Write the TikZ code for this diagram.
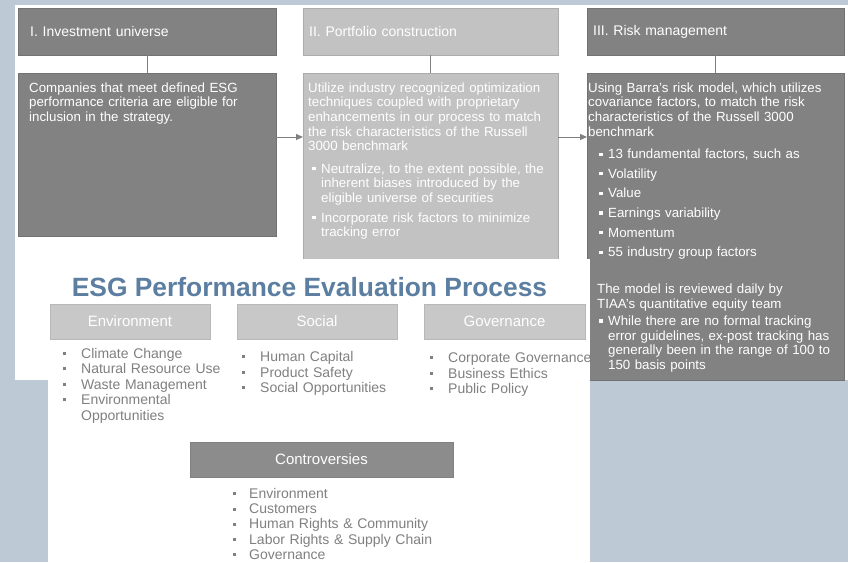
\documentclass[tikz,border=0pt]{standalone}
\usepackage{fontspec}
\setmainfont{Liberation Sans}
\usetikzlibrary{arrows.meta}

\definecolor{slide}{HTML}{BDC9D5}
\definecolor{boxdark}{HTML}{828282}
\definecolor{boxlight}{HTML}{C2C2C2}
\definecolor{catgrey}{HTML}{C8C8C8}
\definecolor{contgrey}{HTML}{8C8C8C}
\definecolor{listgrey}{HTML}{808080}
\definecolor{titleblue}{HTML}{5B7EA1}

\newcommand{\sqb}{\raisebox{0.2em}{\rule{3.5pt}{3.5pt}}}
\newcommand{\lsq}{\raisebox{0.22em}{\rule{3pt}{3pt}}}

\begin{document}
\begin{tikzpicture}[x=1pt,y=-1pt,
  head/.style={anchor=north west, draw=#1!88!black, fill=#1, text=white,
    minimum height=47pt, align=left, font=\fontsize{14}{16}\selectfont},
  body/.style={anchor=north west, draw=#1!88!black, fill=#1, inner sep=0pt},
  bodytext/.style={anchor=base west, inner sep=0pt, text=white, align=left,
    font=\fontsize{13.3}{14.7}\selectfont},
  conn/.style={draw=listgrey, line width=1pt},
  catbox/.style={draw=#1!92!black, fill=#1, text=white, minimum height=35pt,
    font=\fontsize{15}{17}\selectfont},
  listtext/.style={anchor=base west, inner sep=0pt, text=listgrey, align=left,
    text width=170pt, font=\fontsize{14}{15.5}\selectfont}]
  \useasboundingbox (0,0) rectangle (848,562);
  \fill[slide] (0,0) rectangle (848,562);
  \fill[white] (15,5) rectangle (848,380);

  % three process steps
  \node[head=boxdark, inner xsep=12pt, text width=234pt] (head1) at (18,8) {I. Investment universe};
  \node[head=boxlight, inner xsep=6pt, text width=243pt] (head2) at (303,8) {II. Portfolio construction};
  \node[head=boxdark, inner xsep=6pt, text width=245pt] (head3) at (587,8) {III. Risk management};
  \node[body=boxdark, minimum width=258pt, minimum height=163pt] (body1) at (18,73) {};
  \node[body=boxlight, minimum width=255pt, minimum height=186pt] (body2) at (303,73) {};
  \node[body=boxdark, minimum width=257pt, minimum height=307pt] (body3) at (587,73) {};
  \draw[conn] (head1) -- (body1);
  \draw[conn] (head2) -- (body2);
  \draw[conn] (head3) -- (body3);
  \draw[conn, -{Triangle[length=7pt,width=6pt]}] ([yshift=-64pt]body1.north east) -- ([yshift=-64pt]body2.north west);
  \draw[conn, -{Triangle[length=7pt,width=6pt]}] ([yshift=-64pt]body2.north east) -- ([yshift=-64pt]body3.north west);

  \node[bodytext, text width=240pt] (text1) at (29,92)
    {Companies that meet defined ESG\\ performance criteria are eligible for\\ inclusion in the strategy.};
  \node[bodytext, text width=245pt] (text2) at (308,92)
    {Utilize industry recognized optimization\\ techniques coupled with proprietary\\
     enhancements in our process to match\\ the risk characteristics of the Russell\\ 3000 benchmark\\[7.5pt]
     \hspace*{4pt}\makebox[9pt][l]{\sqb}Neutralize, to the extent possible, the\\
     \hspace*{13pt}inherent biases introduced by the\\ \hspace*{13pt}eligible universe of securities\\[5pt]
     \hspace*{4pt}\makebox[9pt][l]{\sqb}Incorporate risk factors to minimize\\ \hspace*{13pt}tracking error};
  \node[bodytext, text width=250pt] (text3) at (588,92)
    {Using Barra's risk model, which utilizes\\ covariance factors, to match the risk\\
     characteristics of the Russell 3000\\ benchmark\\[8pt]
     \hspace*{11pt}\makebox[9pt][l]{\sqb}13 fundamental factors, such as\\[4.5pt]
     \hspace*{11pt}\makebox[9pt][l]{\sqb}Volatility\\[5pt]
     \hspace*{11pt}\makebox[9pt][l]{\sqb}Value\\[5pt]
     \hspace*{11pt}\makebox[9pt][l]{\sqb}Earnings variability\\[5pt]
     \hspace*{11pt}\makebox[9pt][l]{\sqb}Momentum\\[5pt]
     \hspace*{11pt}\makebox[9pt][l]{\sqb}55 industry group factors\\[22pt]
     \hspace*{9pt}The model is reviewed daily by\\ \hspace*{9pt}TIAA's quantitative equity team\\[2.6pt]
     \hspace*{11pt}\makebox[9pt][l]{\sqb}While there are no formal tracking\\
     \hspace*{20pt}error guidelines, ex-post tracking has\\
     \hspace*{20pt}generally been in the range of 100 to\\ \hspace*{20pt}150 basis points};

  % ESG evaluation panel
  \fill[white] (48,259) rectangle (590,562);
  \node[text=titleblue, font=\bfseries\fontsize{26.4}{30}\selectfont] (title) at (309.5,287) {ESG Performance Evaluation Process};
  \node[catbox=catgrey, minimum width=160pt] (env) at (130,321.5) {Environment};
  \node[catbox=catgrey, minimum width=160pt] (soc) at (317,321.5) {Social};
  \node[catbox=catgrey, minimum width=161pt] (gov) at (504.5,321.5) {Governance};
  \node[listtext] (envlist) at (63,358)
    {\makebox[18pt][l]{\lsq}Climate Change\\ \makebox[18pt][l]{\lsq}Natural Resource Use\\
     \makebox[18pt][l]{\lsq}Waste Management\\ \makebox[18pt][l]{\lsq}Environmental\\ \hspace*{18pt}Opportunities};
  \node[listtext] (soclist) at (242,361.5)
    {\makebox[18pt][l]{\lsq}Human Capital\\ \makebox[18pt][l]{\lsq}Product Safety\\
     \makebox[18pt][l]{\lsq}Social Opportunities};
  \node[listtext] (govlist) at (430,362.5)
    {\makebox[18pt][l]{\lsq}Corporate Governance\\ \makebox[18pt][l]{\lsq}Business Ethics\\
     \makebox[18pt][l]{\lsq}Public Policy};
  \node[catbox=contgrey, minimum width=263pt] (cont) at (321.5,459.5) {Controversies};
  \node[listtext, text width=220pt, font=\fontsize{14}{15.2}\selectfont] (contlist) at (233,498.5)
    {\makebox[16pt][l]{\lsq}Environment\\ \makebox[16pt][l]{\lsq}Customers\\
     \makebox[16pt][l]{\lsq}Human Rights \& Community\\ \makebox[16pt][l]{\lsq}Labor Rights \& Supply Chain\\
     \makebox[16pt][l]{\lsq}Governance};
\end{tikzpicture}
\end{document}
